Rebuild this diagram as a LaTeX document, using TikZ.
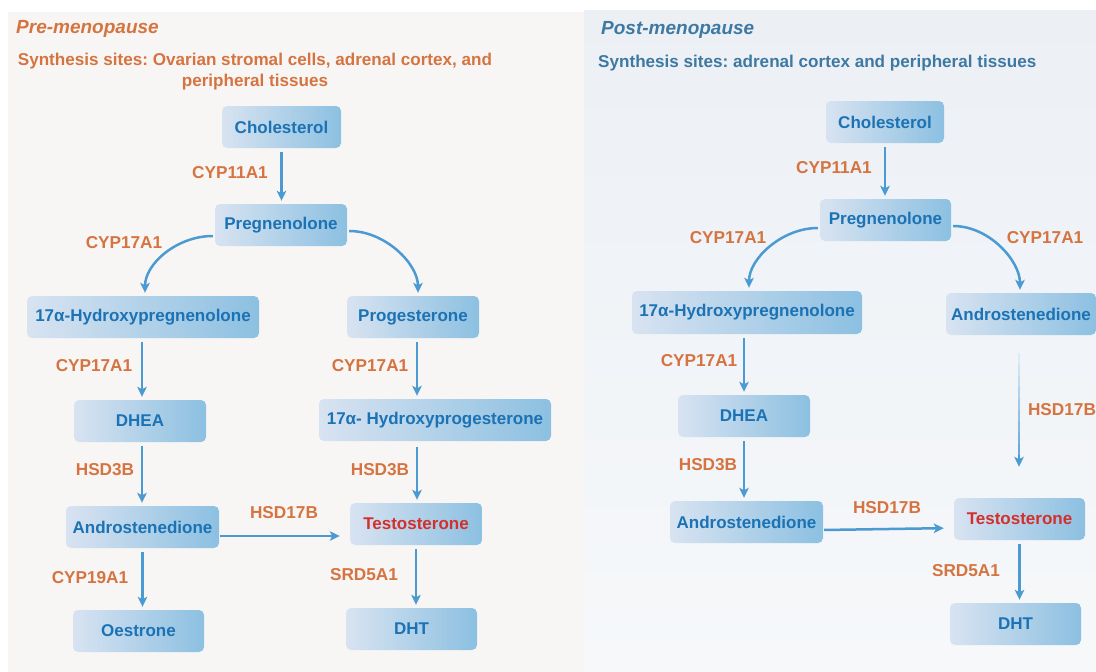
\documentclass[tikz,border=0pt]{standalone}
\usepackage{fontspec}
\setmainfont{Liberation Sans}
\usetikzlibrary{arrows.meta,calc}
\definecolor{nodeL}{HTML}{D8E3F1}
\definecolor{nodeR}{HTML}{8CC0E1}
\definecolor{txtblue}{HTML}{1B72B4}
\definecolor{txtred}{HTML}{D2302C}
\definecolor{enz}{HTML}{D57440}
\definecolor{arr}{HTML}{4B9AD2}
\definecolor{hdrblue}{HTML}{3D79A2}
\definecolor{bgL}{HTML}{F8F6F5}
\definecolor{bgRtop}{HTML}{ECF0F5}
\definecolor{bgRbot}{HTML}{F6F8FA}
\frenchspacing
\begin{document}
\begin{tikzpicture}[x=1pt,y=-1pt,
  mol/.style={rounded corners=5pt, left color=nodeL, right color=nodeR, text=txtblue,
    font=\fontsize{17}{20}\selectfont\bfseries, minimum height=42pt, inner sep=0pt},
  molsm/.style={mol},
  enzl/.style={text=enz, font=\fontsize{17.2}{20}\selectfont\bfseries, inner sep=0pt},
  hdr/.style={font=\fontsize{19}{22}\selectfont\bfseries\itshape, inner sep=0pt, anchor=west},
  sub/.style={font=\fontsize{17.1}{21}\selectfont\bfseries, inner sep=0pt},
  flow/.style={draw=arr, line width=2.5pt, -{Stealth[length=10pt,width=9.5pt,inset=2.5pt]},
    shorten <=4pt, shorten >=3pt}
]
\useasboundingbox (0,0) rectangle (1096,672);
\fill[white] (0,0) rectangle (1096,672);
% panels
\fill[bgL] (8,12) rectangle (584,672);
\shade[top color=bgRtop, bottom color=bgRbot] (584,10) rectangle (1096,672);

% headers
\node[hdr, text=enz] (hL) at (16,28.5) {Pre-menopause};
\node[sub, text=enz, align=center] (sL) at (255,72) {Synthesis sites: Ovarian stromal cells, adrenal cortex, and\\peripheral tissues};
\node[hdr, text=hdrblue] (hR) at (601,29.5) {Post-menopause};
\node[sub, text=hdrblue, anchor=west] (sR) at (598,63.5) {Synthesis sites: adrenal cortex and peripheral tissues};

% ---------- left panel nodes
\node[mol, minimum width=119pt] (chl1) at (281.5,127) {Cholesterol};
\node[mol, minimum width=132pt] (prg1) at (281,225) {Pregnenolone};
\node[molsm, minimum width=232pt] (hp1) at (143,317) {17α-Hydroxypregnenolone};
\node[mol, minimum width=132pt] (pro1) at (413,317) {Progesterone};
\node[mol, minimum width=132pt] (dhea1) at (140,421) {DHEA};
\node[molsm, minimum width=232pt] (ohp1) at (435,420) {17α- Hydroxyprogesterone};
\node[mol, minimum width=153pt] (and1) at (142.5,527) {Androstenedione};
\node[mol, minimum width=132pt, text=txtred] (tes1) at (416,524) {Testosterone};
\node[mol, minimum width=131pt] (oes1) at (138.5,631) {Oestrone};
\node[mol, minimum width=131pt] (dht1) at (411.5,629) {DHT};

% left enzyme labels
\node[enzl] (e1) at (230,173) {CYP11A1};
\node[enzl] (e2) at (124,243) {CYP17A1};
\node[enzl] (e3) at (94,366) {CYP17A1};
\node[enzl] (e4) at (370,366) {CYP17A1};
\node[enzl] (e5) at (105,470) {HSD3B};
\node[enzl] (e6) at (380,470) {HSD3B};
\node[enzl] (e7) at (284,513) {HSD17B};
\node[enzl] (e8) at (90,578) {CYP19A1};
\node[enzl] (e9) at (364,575) {SRD5A1};

% left arrows
\draw[flow] (chl1.south) -- (chl1.south |- prg1.north);
\draw[flow, shorten <=2pt] ([yshift=-11pt]prg1.west) .. controls +(-38,0) and +(0,-32) .. ([xshift=2pt]hp1.north);
\draw[flow, shorten <=2pt] ([yshift=-6pt]prg1.east) .. controls +(38,0) and +(0,-32) .. ([xshift=5pt]pro1.north);
\draw[flow] ([xshift=-1pt]hp1.south) -- ([xshift=-1pt]hp1.south |- dhea1.north);
\draw[flow] ([xshift=2pt]dhea1.south) -- ([xshift=2pt]dhea1.south |- and1.north);
\draw[flow] (and1.south) -- (and1.south |- oes1.north);
\draw[flow] ([xshift=4pt]pro1.south) -- ([xshift=4pt]pro1.south |- ohp1.north);
\draw[flow] ([xshift=4pt,yshift=-2pt]pro1.south |- ohp1.south) -- ([xshift=4pt]pro1.south |- tes1.north);
\draw[flow] (tes1.south) -- (tes1.south |- dht1.north);
\draw[flow, shorten <=1pt, shorten >=10pt] ([yshift=-9pt]and1.east) -- ([yshift=-12pt]tes1.west);

% ---------- right panel nodes
\node[mol, minimum width=118pt] (chl2) at (885,122) {Cholesterol};
\node[mol, minimum width=131pt] (prg2) at (885.5,220) {Pregnenolone};
\node[molsm, minimum width=230pt, minimum height=43pt] (hp2) at (747,312.5) {17α-Hydroxypregnenolone};
\node[mol, minimum width=150pt] (anr) at (1021,314) {Androstenedione};
\node[mol, minimum width=132pt] (dhea2) at (744,416) {DHEA};
\node[mol, minimum width=153pt] (and2) at (746.5,522) {Androstenedione};
\node[mol, minimum width=131pt, text=txtred] (tes2) at (1019.5,519) {Testosterone};
\node[mol, minimum width=131pt] (dht2) at (1015.5,624) {DHT};

% right enzyme labels
\node[enzl] (f1) at (834,168) {CYP11A1};
\node[enzl] (f2) at (728,238) {CYP17A1};
\node[enzl] (f3) at (1045,238) {CYP17A1};
\node[enzl] (f4) at (699,361) {CYP17A1};
\node[enzl] (f5) at (708,465) {HSD3B};
\node[enzl] (f6) at (1062,410) {HSD17B};
\node[enzl] (f7) at (887,508) {HSD17B};
\node[enzl] (f8) at (966,571) {SRD5A1};

% right arrows
\coordinate (anrOut) at ([xshift=-2pt,yshift=-18pt]anr.south);
\coordinate (tesIn) at ([yshift=31pt]tes2.north);
\coordinate (tesEnd) at (anrOut |- tesIn);
\draw[flow] (chl2.south) -- (chl2.south |- prg2.north);
\draw[flow, shorten <=2pt] ([yshift=-8pt]prg2.west) .. controls +(-38,0) and +(0,-32) .. ([xshift=2pt]hp2.north);
\draw[flow, shorten <=2pt] ([yshift=-6pt]prg2.east) .. controls +(38,0) and +(0,-32) .. ([xshift=-1pt]anr.north);
\draw[flow] ([xshift=-3pt]hp2.south) -- ([xshift=-3pt]hp2.south |- dhea2.north);
\draw[flow] (dhea2.south) -- (dhea2.south |- and2.north);
\foreach \i in {0,...,8}{
  \pgfmathsetmacro\fa{\i/10}
  \pgfmathsetmacro\fb{(\i+1)/10+0.01}
  \pgfmathtruncatemacro\cc{20+8*\i}
  \draw[draw=arr!\cc, line width=1.7pt] ($(anrOut)!\fa!(tesEnd)$) -- ($(anrOut)!\fb!(tesEnd)$);
}
\draw[flow, line width=1.7pt, shorten <=0pt, shorten >=0pt] ($(anrOut)!0.9!(tesEnd)$) -- (tesEnd);
\draw[flow, shorten <=1pt, shorten >=10pt] ([yshift=-8pt]and2.east) -- ([yshift=-9pt]tes2.west);
\draw[flow] (tes2.south) -- (tes2.south |- dht2.north);
\end{tikzpicture}
\end{document}
